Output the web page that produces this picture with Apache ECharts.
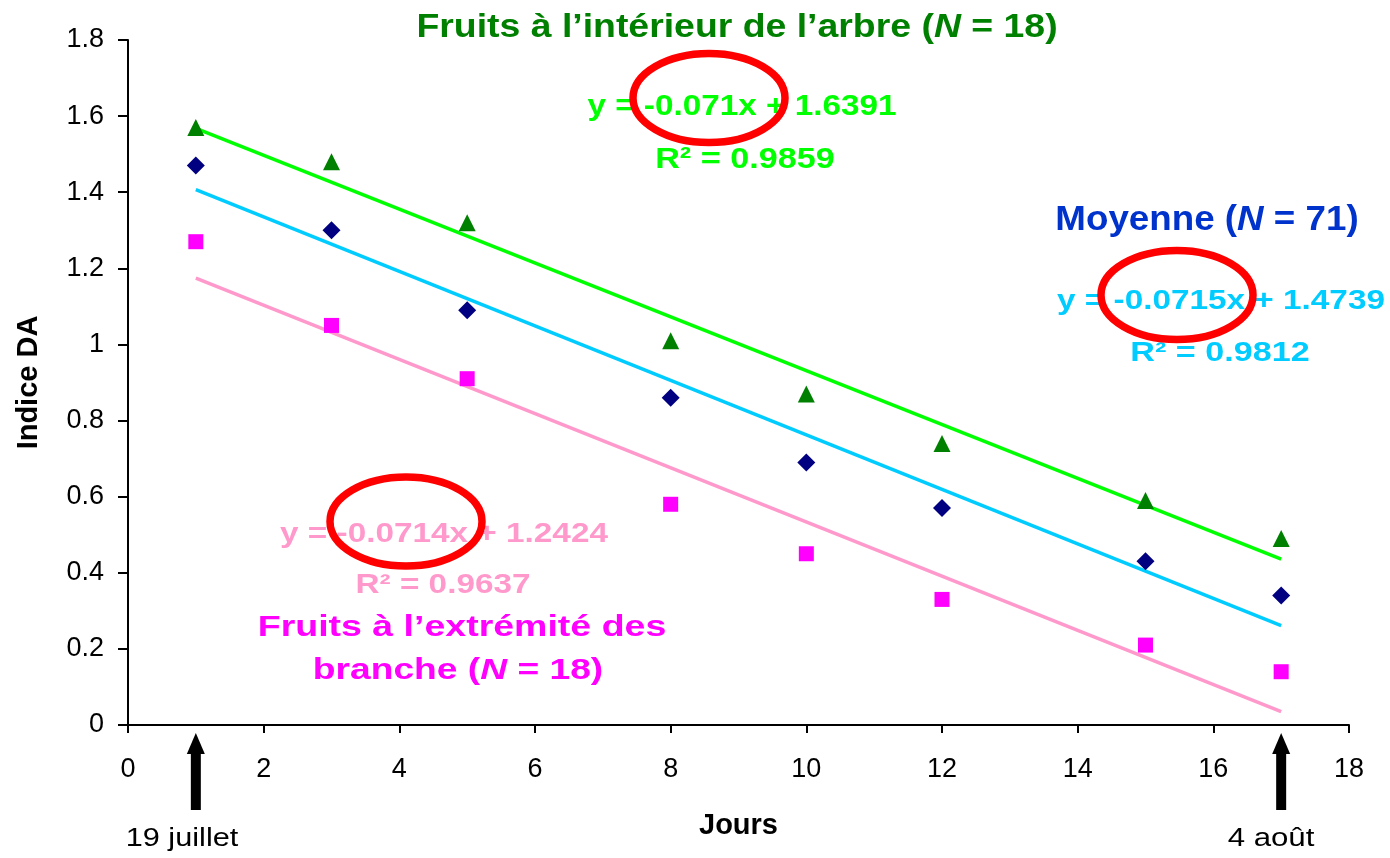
<!DOCTYPE html>
<html><head><meta charset="utf-8">
<script src="https://cdn.jsdelivr.net/npm/echarts@6/dist/echarts.min.js"></script>
<style>html,body{margin:0;padding:0;background:#fff}#c{width:1390px;height:858px}</style>
</head><body><div id="c"></div>
<script>
const days = [1, 3, 5, 8, 10, 12, 15, 17];
const interieur = [1.57, 1.48, 1.32, 1.01, 0.87, 0.74, 0.59, 0.49];
const moyenne = [1.47, 1.30, 1.09, 0.86, 0.69, 0.57, 0.43, 0.34];
const extremite = [1.27, 1.05, 0.91, 0.58, 0.45, 0.33, 0.21, 0.14];
const trendX = [1, 17];
const interieurTrend = [1.568, 0.436];
const moyenneTrend = [1.407, 0.261];
const extremiteTrend = [1.174, 0.035];
const xTicks = [0, 2, 4, 6, 8, 10, 12, 14, 16, 18];
const yTicks = [0, 0.2, 0.4, 0.6, 0.8, 1, 1.2, 1.4, 1.6, 1.8];

const F = 'Liberation Sans, Arial, sans-serif';
const pair = (xs, ys) => xs.map((x, i) => [x, ys[i]]);
const chart = echarts.init(document.getElementById('c'), null, {renderer: 'canvas'});

function scatter(name, data, symbol, size, color) {
  return {name, type: 'scatter', data: pair(days, data), symbol, symbolSize: size,
    itemStyle: {color, opacity: 1}, z: 5, animation: false};
}
function trend(name, ys, color) {
  return {name, type: 'line', data: pair(trendX, ys), symbol: 'none',
    lineStyle: {color, width: 3.5}, z: 3, animation: false};
}

chart.setOption({
  animation: false,
  grid: {left: 128, right: 41, top: 40, bottom: 133},
  xAxis: {type: 'value', min: 0, max: 18, interval: 2,
    axisLine: {lineStyle: {color: '#000', width: 2}}, axisTick: {lineStyle: {color: '#000', width: 2}, length: 8},
    axisLabel: {color: '#000', fontFamily: F, fontSize: 27, margin: 31, formatter: v => xTicks.includes(v) ? String(v) : ''},
    splitLine: {show: false},
    name: 'Jours', nameLocation: 'middle', nameGap: 86,
    nameTextStyle: {fontFamily: F, fontSize: 29, fontWeight: 'bold', color: '#000'}},
  yAxis: {type: 'value', min: 0, max: 1.8, interval: 0.2,
    axisLine: {show: true, lineStyle: {color: '#000', width: 2}}, axisTick: {show: true, lineStyle: {color: '#000', width: 2}, length: 10},
    axisLabel: {color: '#000', fontFamily: F, fontSize: 27, margin: 24,
      formatter: v => { const t = yTicks.find(k => Math.abs(k - v) < 1e-6); return t === undefined ? '' : String(t); }},
    splitLine: {show: false},
    name: 'Indice DA', nameLocation: 'middle', nameGap: 85, nameRotate: 90,
    nameTextStyle: {fontFamily: F, fontSize: 29, fontWeight: 'bold', color: '#000'}},
  series: [
    trend('Tendance intérieur', interieurTrend, '#00FF00'),
    trend('Tendance moyenne', moyenneTrend, '#00CCFF'),
    trend('Tendance extrémité', extremiteTrend, '#FF99CC'),
    scatter('Fruits à l’intérieur de l’arbre', interieur, 'triangle', 17, '#008000'),
    scatter('Moyenne', moyenne, 'diamond', 18, '#000080'),
    scatter('Fruits à l’extrémité des branche', extremite, 'rect', 15, '#FF00FF')
  ]
});

function txt(x, y, text, color, size, sx, weight) {
  return {type: 'text', x, y, z: 20, scaleX: sx || 1,
    style: {text, fill: color, font: (weight === undefined ? 'bold ' : weight) + size + 'px ' + F, align: 'center', verticalAlign: 'middle'}};
}
function richN(x, y, pre, post, color, size, sx) {
  return {type: 'text', x, y, z: 20, scaleX: sx || 1,
    style: {text: '{a|' + pre + '}{i|N}{a|' + post + '}', align: 'center', verticalAlign: 'middle',
      rich: {a: {fill: color, font: 'bold ' + size + 'px ' + F},
             i: {fill: color, font: 'italic bold ' + size + 'px ' + F}}}};
}
function ellipse(cx, cy) {
  return {type: 'ellipse', z: 25, shape: {cx, cy, rx: 76, ry: 44.5},
    style: {fill: 'none', stroke: '#FF0000', lineWidth: 7.5}};
}
function arrow(xv) {
  const px = chart.convertToPixel({gridIndex: 0}, [xv, 0])[0];
  const top = 733;
  return [
    {type: 'polygon', z: 20, shape: {points: [[px, top], [px - 9, top + 21], [px + 9, top + 21]]}, style: {fill: '#000'}},
    {type: 'rect', z: 20, shape: {x: px - 5, y: top + 19, width: 10, height: 58}, style: {fill: '#000'}}
  ];
}
const g = [];
g.push(richN(737, 28, 'Fruits à l’intérieur de l’arbre (', ' = 18)', '#008000', 34, 1.10));
g.push(txt(742, 107, 'y = -0.071x + 1.6391', '#00FF00', 30, 1.11));
g.push(txt(745, 160, 'R² = 0.9859', '#00FF00', 30, 1.14));
g.push(richN(1207, 220, 'Moyenne (', ' = 71)', '#0033CC', 35, 1.05));
g.push(txt(1221, 301, 'y = -0.0715x + 1.4739', '#00CCFF', 28, 1.19));
g.push(txt(1220, 353, 'R² = 0.9812', '#00CCFF', 28, 1.22));
g.push(txt(444, 534, 'y = -0.0714x + 1.2424', '#FF99CC', 28, 1.19));
g.push(txt(443, 585, 'R² = 0.9637', '#FF99CC', 28, 1.19));
g.push(txt(462, 628, 'Fruits à l’extrémité des', '#FF00FF', 30, 1.25));
g.push(richN(458, 671, 'branche (', ' = 18)', '#FF00FF', 30, 1.24));
g.push(ellipse(709, 98), ellipse(1177, 295), ellipse(406, 521.5));
g.push(...arrow(days[0]), ...arrow(days[days.length - 1]));
g.push(txt(182, 839, '19 juillet', '#000', 26, 1.18, ''));
g.push(txt(1271, 839, '4 août', '#000', 26, 1.2, ''));
chart.setOption({graphic: g});
</script></body></html>
